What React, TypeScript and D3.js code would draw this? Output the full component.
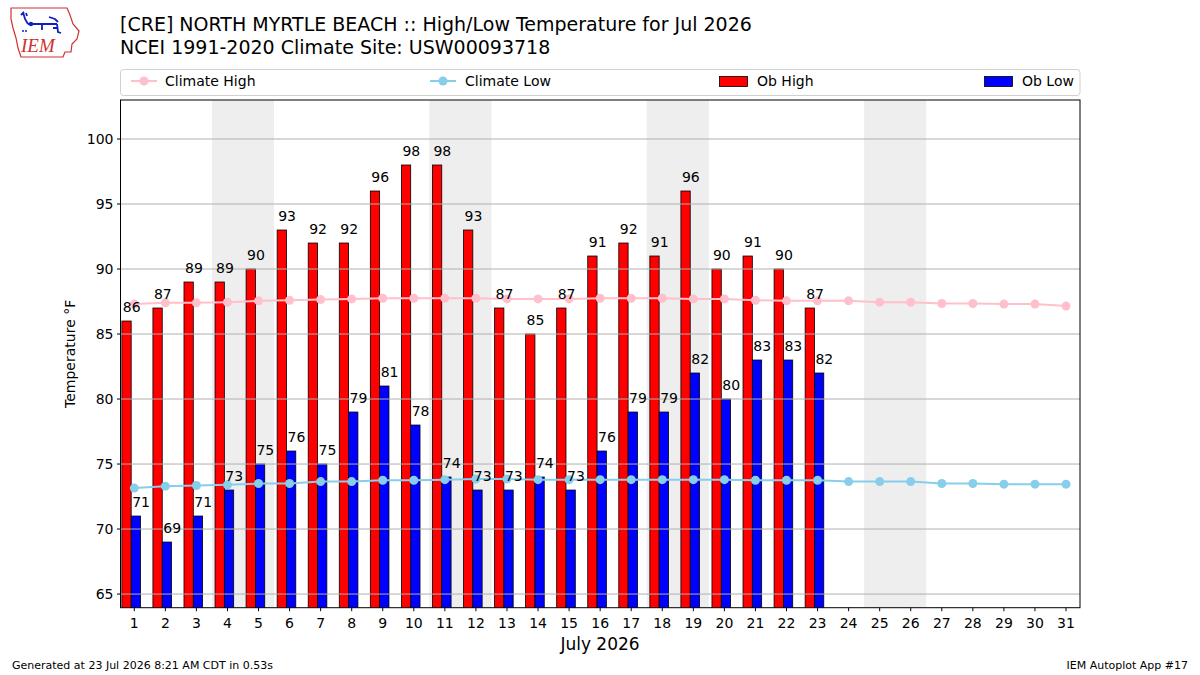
import React from "react";
import * as d3 from "d3";

const days = d3.range(1, 32);
const obHigh = [86, 87, 89, 89, 90, 93, 92, 92, 96, 98, 98, 93, 87, 85, 87, 91, 92, 91, 96, 90, 91, 90, 87];
const obLow = [71, 69, 71, 73, 75, 76, 75, 79, 81, 78, 74, 73, 73, 74, 73, 76, 79, 79, 82, 80, 83, 83, 82];
const climHigh = [87.3, 87.4, 87.4, 87.45, 87.55, 87.6, 87.65, 87.7, 87.75, 87.75, 87.75, 87.75, 87.7, 87.7, 87.7, 87.75,
  87.75, 87.75, 87.7, 87.7, 87.6, 87.55, 87.55, 87.55, 87.45, 87.45, 87.35, 87.35, 87.3, 87.3, 87.15];
const climLow = [73.15, 73.3, 73.35, 73.4, 73.5, 73.5, 73.65, 73.65, 73.75, 73.75, 73.8, 73.85, 73.85, 73.8, 73.8, 73.8,
  73.8, 73.8, 73.8, 73.8, 73.75, 73.75, 73.75, 73.65, 73.65, 73.65, 73.5, 73.5, 73.45, 73.45, 73.45];
const weekendStarts = [4, 11, 18, 25];
const yTicks = [65, 70, 75, 80, 85, 90, 95, 100];

const W = 1200, H = 675;
const L = 120.5, R = 1080, T = 100, B = 607.7;
const FONT = "DejaVu Sans, sans-serif";

export default function App() {
  const x = d3.scaleLinear().domain([0.556, 31.45]).range([L, R]);
  const y = d3.scaleLinear().domain([63.95, 103]).range([B, T]);
  const dw = x(2) - x(1);
  const line = d3.line<number>().x((_, i) => x(i + 1)).y((v) => y(v));

  return (
    <svg width={W} height={H} style={{ position: "absolute", left: 0, top: 0, background: "#fff" }} fontFamily={FONT}>
      <rect width={W} height={H} fill="#fff" />
      {/* logo */}
      <g>
        <path d="M11,8 L67,8 L70,15 L73,24 L79,31 L77,39 L72,44 L71,52 L65,52 L63,57 L21,57 L18,48 L16,38 L13,28 L11,19 Z"
          fill="none" stroke="#d03030" strokeWidth={1.2} />
        <path d="M23,12 L25,19 L28,24 M21,15 L24,12 M26,13 L27,16 M28,24 L57,24 M49,17 L55,19 L58,22 M57,24 L58,32 L61,33 M42,24 L42,30 M53,28 L58,28"
          fill="none" stroke="#1020c0" strokeWidth={1.8} />
        <circle cx={31} cy={24} r={2.2} fill="#1020c0" />
        <circle cx={23} cy={31} r={1} fill="#1020c0" />
        <circle cx={26} cy={31} r={1} fill="#1020c0" />
        <text x={21} y={52} fontFamily="Liberation Serif, serif" fontStyle="italic" fontSize={19} fill="#d03030">IEM</text>
      </g>
      {/* titles */}
      <text x={120} y={31} fontSize={19} fill="#000">[CRE] NORTH MYRTLE BEACH :: High/Low Temperature for Jul 2026</text>
      <text x={120} y={54} fontSize={19} fill="#000">NCEI 1991-2020 Climate Site: USW00093718</text>
      {/* legend */}
      <g>
        <rect x={120.5} y={69.5} width={959.5} height={26} rx={3} fill="#fff" stroke="#d0d0d0" />
        <line x1={131} x2={157} y1={81} y2={81} stroke="#FFC0CB" strokeWidth={2} />
        <circle cx={144} cy={81} r={4.5} fill="#FFC0CB" />
        <text x={165} y={86} fontSize={14}>Climate High</text>
        <line x1={430} x2={456} y1={81} y2={81} stroke="#87CEEB" strokeWidth={2} />
        <circle cx={443} cy={81} r={4.5} fill="#87CEEB" />
        <text x={465} y={86} fontSize={14}>Climate Low</text>
        <rect x={719.5} y={76.5} width={28} height={10} fill="red" stroke="#000" strokeWidth={0.8} />
        <text x={757} y={86} fontSize={14}>Ob High</text>
        <rect x={984.5} y={76.5} width={28} height={10} fill="blue" stroke="#000" strokeWidth={0.8} />
        <text x={1022} y={86} fontSize={14}>Ob Low</text>
      </g>
      <defs>
        <clipPath id="plotclip"><rect x={L} y={T} width={R - L} height={B - T} /></clipPath>
      </defs>
      <g clipPath="url(#plotclip)">
        {weekendStarts.map((d) => (
          <rect key={d} x={x(d - 0.5)} y={T} width={x(d + 1.5) - x(d - 0.5)} height={B - T} fill="#eeeeee" />
        ))}
        {obHigh.map((v, i) => (
          <rect key={"h" + i} x={x(i + 1 - 0.4)} y={y(v)} width={0.3 * dw} height={B + 5 - y(v)} fill="red" stroke="#000" strokeWidth={0.8} />
        ))}
        {obLow.map((v, i) => (
          <rect key={"l" + i} x={x(i + 1 - 0.1)} y={y(v)} width={0.3 * dw} height={B + 5 - y(v)} fill="blue" stroke="#000" strokeWidth={0.8} />
        ))}
        {yTicks.map((t) => (
          <line key={t} x1={L} x2={R} y1={y(t)} y2={y(t)} stroke="#b0b0b0" strokeWidth={1} />
        ))}
        <path d={line(climHigh) || ""} fill="none" stroke="#FFC0CB" strokeWidth={2} />
        {climHigh.map((v, i) => <circle key={"ch" + i} cx={x(i + 1)} cy={y(v)} r={4.5} fill="#FFC0CB" />)}
        <path d={line(climLow) || ""} fill="none" stroke="#87CEEB" strokeWidth={2} />
        {climLow.map((v, i) => <circle key={"cl" + i} cx={x(i + 1)} cy={y(v)} r={4.5} fill="#87CEEB" />)}
      </g>
      {obHigh.map((v, i) => (
        <text key={"th" + i} x={x(i + 1 - 0.4) + 1} y={y(v) - 9.5} fontSize={14}>{v}</text>
      ))}
      {obLow.map((v, i) => (
        <text key={"tl" + i} x={x(i + 1 - 0.1) + 1} y={y(v) - 9.5} fontSize={14}>{v}</text>
      ))}
      {/* axes frame */}
      <rect x={L} y={T} width={R - L} height={B - T} fill="none" stroke="#000" strokeWidth={1} />
      {yTicks.map((t) => (
        <g key={"yt" + t}>
          <line x1={L - 3.5} x2={L} y1={y(t)} y2={y(t)} stroke="#000" />
          <text x={L - 7} y={y(t) + 5} fontSize={14} textAnchor="end">{t}</text>
        </g>
      ))}
      {days.map((d) => (
        <g key={"xt" + d}>
          <line x1={x(d)} x2={x(d)} y1={B} y2={B + 3.5} stroke="#000" />
          <text x={x(d)} y={B + 20} fontSize={14} textAnchor="middle">{d}</text>
        </g>
      ))}
      <text transform={`translate(75,${(T + B) / 2}) rotate(-90)`} fontSize={14} textAnchor="middle">Temperature °F</text>
      <text x={600} y={650} fontSize={17} textAnchor="middle">July 2026</text>
      <text x={12} y={669} fontSize={11}>Generated at 23 Jul 2026 8:21 AM CDT in 0.53s</text>
      <text x={1188} y={669} fontSize={11} textAnchor="end">IEM Autoplot App #17</text>
    </svg>
  );
}
